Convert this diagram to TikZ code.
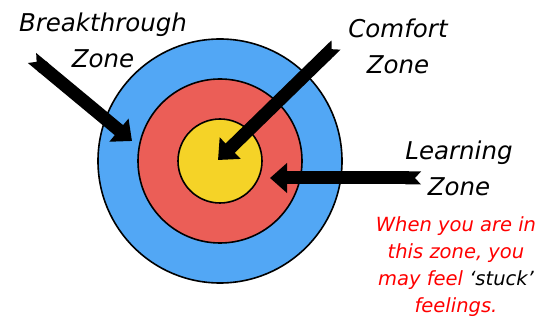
\documentclass[tikz,border=0pt]{standalone}
\usepackage{fontspec}
\setmainfont{DejaVu Sans}
\usetikzlibrary{arrows.meta}
\definecolor{outerblue}{RGB}{82,167,245}
\definecolor{midred}{RGB}{235,94,87}
\definecolor{inneryellow}{RGB}{245,211,39}
\begin{document}
\begin{tikzpicture}[x=1pt,y=-1pt,line join=round,
  zone/.style={font=\fontsize{24.5}{36}\selectfont\itshape,align=center},
  note/.style={font=\fontsize{19.5}{27}\selectfont\itshape,align=center,text=red},
  pointer/.style={line width=13pt,{Triangle Cap[reversed,length=6pt]}-{Triangle[length=17pt,width=29pt]}}]
  \useasboundingbox (0,0) rectangle (551,320);
  \coordinate (O) at (220,161);
  % target rings
  \filldraw[line width=1.6pt,fill=outerblue] (O) circle (122pt);
  \filldraw[line width=1.6pt,fill=midred] (O) circle (82pt);
  \filldraw[line width=1.6pt,fill=inneryellow] (O) circle (42pt);
  % labels
  \node[zone] (break) at (103,40) {Breakthrough\\Zone};
  \node[zone] (comfort) at (398,46) {Comfort\\Zone};
  \node[zone] (learn) at (459,168) {Learning\\Zone};
  \node[note] (stuck) at (456,267) {When you are in\\this zone, you\\may feel \textcolor{black}{`stuck'}\\feelings.};
  % pointers
  \coordinate (breakTail) at (32,58); \coordinate (breakTip) at (132,141);
  \coordinate (comfortTail) at (336,45); \coordinate (comfortTip) at (218,160);
  \coordinate (learnTail) at (421,178); \coordinate (learnTip) at (270,178);
  \draw[pointer] (breakTail) -- (breakTip);
  \draw[pointer] (comfortTail) -- (comfortTip);
  \draw[pointer] (learnTail) -- (learnTip);
\end{tikzpicture}
\end{document}
